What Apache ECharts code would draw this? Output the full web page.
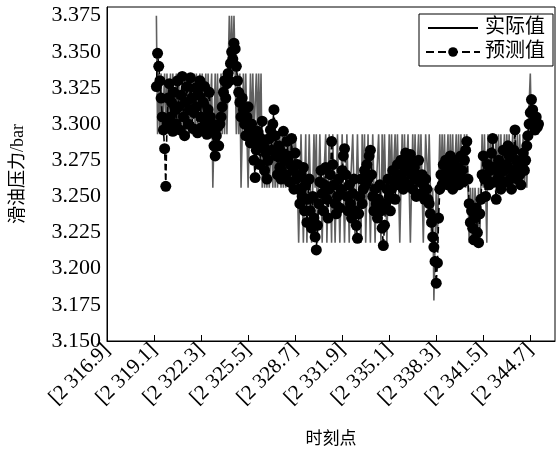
<!DOCTYPE html>
<html><head><meta charset="utf-8">
<script src="https://cdn.jsdelivr.net/npm/echarts@6/dist/echarts.min.js"></script>
<style>html,body{margin:0;padding:0;background:#fff}#c{width:557px;height:453px}</style>
</head><body><div id="c"></div>
<script>
// tick labels of the time axis (one per 40 sample slots)
const tickLabels = ['[2 316.9]','[2 319.1]','[2 322.3]','[2 325.5]','[2 328.7]','[2 331.9]','[2 335.1]','[2 338.3]','[2 341.5]','[2 344.7]'];
const slotCount = 382;      // sample slots along the axis
const slotsPerTick = 40;
const dataStart = 42;       // first slot holding data

// measured (actual) lubricating-oil pressure, bar
const actual = [
3.375,3.293,
3.335,3.293,3.335,3.293,3.293,3.335,3.293,3.335,3.293,3.293,
3.335,3.293,3.335,3.293,3.293,3.335,3.293,3.335,3.293,3.293,
3.335,3.293,3.335,3.293,3.293,3.335,3.293,3.335,3.293,3.293,
3.335,3.293,3.335,3.293,3.293,3.335,3.293,3.335,3.293,3.293,
3.335,3.293,3.335,3.293,3.293,3.335,
3.256,3.293,
3.335,3.293,3.335,3.293,3.293,3.335,3.293,3.335,3.293,3.335,
3.293,3.335,3.375,3.335,3.375,3.335,3.375,3.335,3.293,
3.335,3.293,3.335,3.256,3.293,3.335,3.293,3.335,3.293,3.256,
3.293,3.335,3.293,3.335,3.293,3.293,3.335,3.293,3.335,3.293,
3.335,3.256,
3.293,3.256,3.293,3.256,3.293,3.256,3.256,3.293,3.256,3.293,
3.256,3.293,3.256,3.256,3.293,3.256,3.293,3.256,3.293,3.256,
3.256,3.293,3.256,3.293,3.256,3.293,3.256,3.293,
3.293,3.256,3.218,3.256,3.293,3.256,3.218,3.256,3.293,3.218,
3.256,3.293,3.256,3.218,3.256,3.293,3.256,3.293,3.218,3.256,
3.293,3.256,3.218,3.256,3.256,3.293,3.218,3.256,3.293,3.256,
3.218,3.293,3.256,3.218,3.256,3.293,3.256,3.218,3.256,3.293,
3.256,3.218,3.256,
3.293,3.256,3.218,3.256,3.256,3.293,3.256,3.218,3.256,3.293,
3.256,3.256,3.218,3.293,3.256,3.293,3.218,3.256,3.293,3.256,
3.218,3.256,3.293,3.256,3.218,3.256,3.256,3.293,3.256,3.218,
3.293,3.256,3.293,3.256,3.218,3.256,3.293,3.256,3.293,3.256,
3.256,3.293,3.256,3.293,3.256,3.218,3.256,3.293,3.256,3.293,
3.256,3.256,3.293,3.256,3.218,3.256,3.293,3.256,3.293,3.256,
3.256,3.293,3.256,3.293,3.256,3.218,3.256,3.293,
3.293,3.256,3.293,3.256,3.218,3.256,3.178,3.218,3.256,3.218,3.256,3.293,3.256,
3.293,3.256,3.293,3.256,3.256,3.293,3.256,3.293,3.256,3.293,
3.256,3.256,3.293,3.256,3.293,3.256,3.293,3.256,3.256,3.293,
3.256,3.293,
3.256,3.218,3.256,3.218,3.256,3.218,3.256,3.256,3.218,3.256,3.218,3.256,
3.293,3.256,3.293,3.256,3.218,3.293,3.256,3.293,3.256,3.293,
3.256,3.256,3.293,3.256,3.293,3.256,3.293,3.256,3.256,3.293,
3.256,3.293,3.256,3.293,3.256,3.256,3.293,3.256,3.293,3.256,
3.293,3.256,3.293,3.256,3.256,3.293,3.256,3.293,3.256,3.293,
3.293,3.335,3.293,3.293,3.293,3.293,3.293,3.293,3.293
];
// model prediction, bar
const predicted = [
3.326,3.349,3.340,3.330,3.318,3.305,3.296,3.283,3.257,3.300,
3.318,3.328,3.305,3.315,3.295,3.322,3.310,3.300,3.330,3.312,
3.296,3.320,3.333,3.305,3.292,3.315,3.326,3.300,3.310,3.332,
3.318,3.297,3.308,3.325,3.312,3.294,3.320,3.330,3.305,3.298,
3.315,3.326,3.300,3.293,3.310,3.322,3.305,3.295,3.300,3.285,
3.278,3.292,3.298,3.285,3.300,3.305,3.312,3.322,3.330,3.318,
3.328,3.335,3.330,3.342,3.350,3.345,3.356,3.352,3.340,3.330,
3.322,3.315,3.305,3.318,3.310,3.300,3.292,3.305,3.312,3.296,
3.287,3.300,3.290,3.275,3.263,3.282,3.295,3.285,3.272,3.290,
3.302,3.285,3.268,3.280,3.262,3.275,3.290,3.296,3.282,3.300,
3.310,3.292,3.278,3.265,3.285,3.270,3.262,3.280,3.295,3.275,
3.265,3.288,3.278,3.260,3.272,3.290,3.268,3.255,3.280,3.262,
3.272,3.255,3.245,3.265,3.250,3.270,3.240,3.258,3.232,3.248,
3.262,3.240,3.228,3.250,3.235,3.222,3.213,3.230,3.245,3.260,
3.268,3.252,3.240,3.258,3.270,3.248,3.235,3.255,3.265,3.288,
3.272,3.258,3.245,3.238,3.250,3.262,3.242,3.255,3.268,3.278,
3.283,3.265,3.250,3.240,3.258,3.245,3.235,3.252,3.262,3.240,
3.230,3.221,3.238,3.250,3.262,3.245,3.255,3.268,3.258,3.272,
3.262,3.278,3.282,3.265,3.250,3.240,3.255,3.245,3.235,3.248,
3.258,3.240,3.228,3.216,3.230,3.245,3.255,3.262,3.250,3.240,
3.255,3.268,3.260,3.248,3.262,3.272,3.258,3.265,3.275,3.262,
3.255,3.270,3.280,3.268,3.258,3.275,3.279,3.265,3.255,3.270,
3.262,3.250,3.265,3.275,3.260,3.252,3.265,3.258,3.248,3.262,
3.255,3.248,3.245,3.238,3.232,3.222,3.215,3.205,3.190,3.204,
3.235,3.255,3.265,3.258,3.272,3.262,3.275,3.268,3.258,3.270,
3.278,3.262,3.255,3.268,3.275,3.260,3.270,3.258,3.265,3.278,
3.268,3.260,3.275,3.282,3.288,3.262,3.245,3.232,3.240,3.228,
3.220,3.235,3.242,3.225,3.218,3.238,3.248,3.265,3.278,3.262,
3.250,3.262,3.272,3.258,3.268,3.280,3.290,3.270,3.260,3.248,
3.262,3.275,3.265,3.255,3.270,3.282,3.268,3.260,3.272,3.285,
3.278,3.262,3.255,3.268,3.282,3.296,3.275,3.262,3.270,3.265,
3.258,3.272,3.280,3.268,3.275,3.285,3.292,3.300,3.308,3.317,
3.310,3.302,3.296,3.305,3.298,3.300
];

const categories = [];
for (let i = 0; i < slotCount; i++) categories.push(String(i));
function pad(arr){
  const out = new Array(slotCount).fill(null);
  arr.forEach((v,k)=>{ out[dataStart+k] = v; });
  return out;
}

const FONT = "'Liberation Serif','Noto Sans CJK SC',serif";
const chart = echarts.init(document.getElementById('c'), null, {renderer:'canvas'});
chart.setOption({
  animation:false,
  backgroundColor:'#fff',
  textStyle:{fontFamily:FONT,color:'#000'},
  grid:{left:107,right:2,top:7,bottom:112,show:true,borderColor:'#000',borderWidth:1,containLabel:false},
  legend:{
    orient:'vertical', right:4, top:14,
    backgroundColor:'#fff', borderColor:'#000', borderWidth:1,
    padding:[4,8,4,6], itemGap:4, itemWidth:54, itemHeight:12,
    textStyle:{fontFamily:FONT,fontSize:20,color:'#000'},
    data:[
      {name:'实际值', icon:'path://M0,0L0.01,0L0.01,0.01ZM0,5L50,5L50,7L0,7ZM50,12L49.99,12L49.99,11.99Z', itemStyle:{color:'#000'}},
      {name:'预测值'}
    ]
  },
  xAxis:{
    type:'category', data:categories, boundaryGap:false,
    name:'时刻点', nameLocation:'middle', nameGap:90,
    nameTextStyle:{fontFamily:FONT,fontSize:17,color:'#000'},
    axisLine:{lineStyle:{color:'#000',width:1}},
    axisTick:{inside:true,length:6,interval:slotsPerTick-1,lineStyle:{color:'#000'}},
    axisLabel:{interval:slotsPerTick-1,rotate:45,margin:6,fontFamily:FONT,fontSize:21,color:'#000',
      formatter:(v,idx)=> tickLabels[Math.round(idx/slotsPerTick)] || ''},
    splitLine:{show:false}
  },
  yAxis:{
    type:'value', min:3.15, max:3.381, interval:0.025,
    name:'滑油压力/bar', nameLocation:'middle', nameGap:80, nameRotate:90,
    nameTextStyle:{fontFamily:FONT,fontSize:18,color:'#000'},
    axisLine:{show:true,lineStyle:{color:'#000',width:1}},
    axisTick:{inside:true,length:6,lineStyle:{color:'#000'}},
    axisLabel:{fontFamily:FONT,fontSize:22,color:'#000',margin:6,
      formatter:v=>{const k=Math.round((v-3.15)/0.025); return Math.abs(3.15+k*0.025-v)<1e-6 ? v.toFixed(3) : '';}},
    splitLine:{show:false}
  },
  series:[
    {name:'实际值', type:'line', data:pad(actual),
     showSymbol:false, symbol:'none', sampling:false,
     color:'#000', lineStyle:{color:'#606060',width:1.6}, z:2},
    {name:'预测值', type:'line', data:pad(predicted),
     symbol:'circle', symbolSize:11, showSymbol:true, showAllSymbol:true,
     color:'#000', itemStyle:{color:'#000'}, lineStyle:{color:'#000',width:1.6,type:'dashed'}, z:3}
  ]
});
</script></body></html>
